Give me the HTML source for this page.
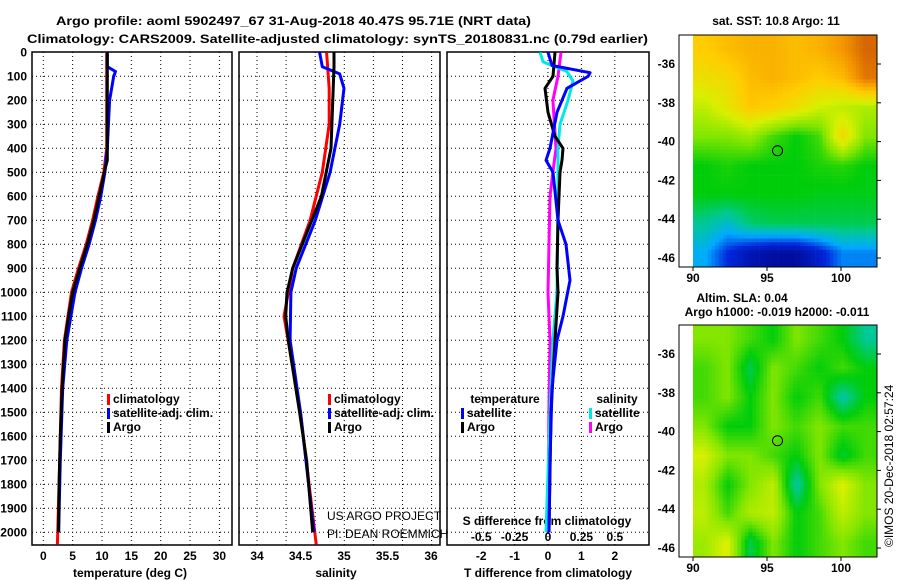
<!DOCTYPE html>
<html><head><meta charset="utf-8"><style>
html,body{margin:0;padding:0;background:#fff;width:900px;height:580px;overflow:hidden}
svg{display:block;font-family:"Liberation Sans",sans-serif}
.t{font-size:12px;font-weight:bold;fill:#000}
</style></head><body>
<svg id="chart" width="900" height="580" viewBox="0 0 900 580" xmlns="http://www.w3.org/2000/svg">
<text class="t" x="56" y="25" font-size="14" textLength="475" lengthAdjust="spacingAndGlyphs">Argo profile: aoml 5902497_67 31-Aug-2018 40.47S 95.71E (NRT data)</text>
<text class="t" x="27" y="43" font-size="14" textLength="621" lengthAdjust="spacingAndGlyphs">Climatology: CARS2009. Satellite-adjusted climatology: synTS_20180831.nc (0.79d earlier)</text>
<g id="g"></g>
</svg>
<script>
// ---- data ----
const depthTicks=[0,100,200,300,400,500,600,700,800,900,1000,1100,1200,1300,1400,1500,1600,1700,1800,1900,2000];
const tTicks=[0,5,10,15,20,25,30];
const sTickLabels=["34","34.5","35","35.5","36"];
const sTicks=[34,34.5,35,35.5,36];
const dTicks=[-2,-1,0,1,2];
const sdTickLabels=["-0.5","-0.25","0","0.25","0.5"];

const argoTdepth=[0,450,500,600,700,800,900,1000,1100,1200,1400,1600,1800,2000];
const argoT=[10.9,10.9,10.4,9.5,8.6,7.5,6.2,5.0,4.3,3.7,3.2,2.9,2.7,2.6];
const satTdepth=[0,60,80,100,200,400,500,600,700,800,900,1000,1200,1400,1700,2000];
const satT=[10.9,10.9,12.3,12.0,11.3,10.9,10.5,9.8,8.9,7.8,6.5,5.4,4.0,3.3,2.9,2.6];
const climTdepth=[0,400,500,600,700,800,900,1000,1200,1400,1700,2050];
const climT=[10.8,10.8,10.3,9.3,8.4,7.3,6.0,4.8,3.6,3.1,2.8,2.4];

const argoSdepth=[0,60,400,600,800,900,1000,1100,1200,1500,1700,2000];
const argoS=[34.885,34.885,34.85,34.74,34.52,34.41,34.345,34.33,34.36,34.49,34.57,34.64];
const satSdepth=[0,60,90,150,300,500,700,900,1000,1200,1500,2000];
const satS=[34.72,34.75,34.95,35.0,34.95,34.84,34.67,34.45,34.39,34.38,34.5,34.655];
const climSdepth=[0,150,300,500,700,900,1100,1500,2050];
const climS=[34.8,34.83,34.83,34.75,34.61,34.41,34.31,34.5,34.68];

const dTsatDepth=[0,55,85,100,150,250,400,450,500,700,800,950,1100,1200,1400,1700,2000];
const dTsat=[0,0.12,1.26,1.2,0.57,0.27,0.06,-0.06,0.15,0.3,0.54,0.66,0.45,0.27,0.12,0.06,0.03];
const dTargoDepth=[0,100,150,250,350,400,450,500,700,900,1000,1200,1500,2000];
const dTargo=[0.21,0.15,-0.09,0,0.21,0.45,0.42,0.36,0.3,0.27,0.3,0.21,0.09,0.03];
const dSsatDepth=[0,40,80,120,200,300,400,600,1000,1200,1500,2000];
const dSsat=[-0.06,-0.037,0.142,0.187,0.15,0.09,0.075,0.075,0.067,0.037,0.015,-0.015];
const dSargoDepth=[0,100,200,400,500,600,1000,1200,1500,2000];
const dSargo=[0.097,0.075,0.037,0.06,0.037,0.015,0,0.015,0.007,0];

const sstGrid=[
[.75,.78,.80,.80,.78,.80,.85,.93],
[.70,.72,.78,.80,.78,.75,.78,.90],
[.62,.68,.76,.74,.70,.64,.62,.60],
[.55,.55,.58,.50,.45,.50,.72,.55],
[.45,.47,.45,.45,.45,.47,.48,.45],
[.45,.45,.45,.45,.45,.44,.44,.44],
[.35,.30,.38,.40,.40,.40,.40,.40],
[.26,.15,.08,.05,.05,.12,.22,.22]];
const slaGrid=[
[.55,.55,.50,.45,.55,.50,.45,.35],
[.50,.55,.40,.55,.50,.45,.50,.45],
[.50,.55,.45,.55,.45,.50,.33,.45],
[.55,.45,.45,.55,.50,.55,.50,.50],
[.65,.55,.55,.50,.45,.55,.42,.50],
[.60,.45,.55,.62,.33,.55,.66,.55],
[.62,.50,.60,.62,.45,.50,.62,.55],
[.58,.66,.40,.55,.45,.50,.55,.50]];
const latTicks=[-36,-38,-40,-42,-44,-46];
const lonTicks=[90,95,100];
const floatLon=95.71, floatLat=-40.47;

// ---- axis functions ----
const yD=d=>52.3+0.24*d;
const xT=t=>43.3+5.87*t;
const xS=s=>257+87*(s-34);
const xD=d=>548+33.4*d;
const xLon=l=>693+14.8*(l-90);
const yLat=(l,off)=>64+off+19.4*(-36-l);

const NS="http://www.w3.org/2000/svg";
const G=document.getElementById('g');
function mk(tag,attrs,parent){const e=document.createElementNS(NS,tag);for(const k in attrs)e.setAttribute(k,attrs[k]);(parent||G).appendChild(e);return e;}
function txt(x,y,s,opt,parent){const e=mk('text',Object.assign({x:x,y:y,'font-size':12,'font-weight':'bold'},opt||{}),parent);e.textContent=s;return e;}

const PT=52, PB=545;
const panels=[[32,232,'temperature-panel'],[239,440,'salinity-panel'],[447,649,'difference-panel']];
panels.forEach(p=>{
  const g=mk('g',{});
  
  
  // horizontal grid
  depthTicks.forEach(d=>{if(d>0){const l=mk('line',{x1:p[0],x2:p[1],y1:yD(d),y2:yD(d),stroke:'#000','stroke-width':1,'stroke-dasharray':'1,3'},g);}});
  let vx=[];
  if(p[2]==='temperature-panel')vx=tTicks.map(xT);
  else if(p[2]==='salinity-panel'){for(let x=257;x<p[1]-2;x+=29.1)vx.push(x);}
  else vx=dTicks.map(xD);
  vx.forEach(x=>{const l=mk('line',{x1:x,x2:x,y1:PT,y2:PB,stroke:'#000','stroke-width':1,'stroke-dasharray':'1,3'},g);});
  const r=mk('rect',{x:p[0],y:PT,width:p[1]-p[0],height:PB-PT,fill:'none',stroke:'#000','stroke-width':1.5},g);
  
  
});
// depth labels
depthTicks.forEach(d=>{const e=txt(27,yD(d)+4,String(d),{'text-anchor':'end'});});
tTicks.forEach(t=>{const e=txt(xT(t),560,String(t),{'text-anchor':'middle'});});
sTicks.forEach((s,i)=>{const e=txt(xS(s),560,sTickLabels[i],{'text-anchor':'middle'});});
dTicks.forEach(d=>{const e=txt(xD(d),560,String(d),{'text-anchor':'middle'});});
dTicks.forEach((d,i)=>{const e=txt(xD(d),541,sdTickLabels[i],{'text-anchor':'middle'});});
let e;
e=txt(130,577,'temperature (deg C)',{'text-anchor':'middle'});
e=txt(336,577,'salinity',{'text-anchor':'middle'});
e=txt(548,577,'T difference from climatology',{'text-anchor':'middle'});
e=txt(547,525,'S difference from climatology',{'text-anchor':'middle'});
e=txt(327,520,'US ARGO PROJECT',{'font-weight':'normal','font-size':12});
e=txt(327,538,'PI: DEAN ROEMMICH',{'font-weight':'normal','font-size':12});

function line(depths,vals,xf,color,name){
  const pts=depths.map((d,i)=>xf(vals[i]).toFixed(1)+','+yD(d).toFixed(1)).join(' ');
  const l=mk('polyline',{points:pts,fill:'none',stroke:color,'stroke-width':3,'stroke-linejoin':'round'});
  
  
}
line(climTdepth,climT,xT,'#ff0000','temperature-climatology-line');
line(satTdepth,satT,xT,'#0000ff','temperature-satellite-line');
line(argoTdepth,argoT,xT,'#000000','temperature-argo-line');
line(climSdepth,climS,xS,'#ff0000','salinity-climatology-line');
line(satSdepth,satS,xS,'#0000ff','salinity-satellite-line');
line(argoSdepth,argoS,xS,'#000000','salinity-argo-line');
const xSD=s=>xD(s*4);
line(dSargoDepth,dSargo,xSD,'#ff00ff','s-difference-argo-line');
line(dSsatDepth,dSsat,xSD,'#00e8e8','s-difference-satellite-line');
line(dTargoDepth,dTargo,xD,'#000000','t-difference-argo-line');
line(dTsatDepth,dTsat,xD,'#0000ff','t-difference-satellite-line');

function legend(x,y,color,label){
  const m=mk('rect',{x:x,y:y-9,width:3,height:11,fill:color});
  
  
  const t=txt(x+6,y,label);
  
  
}
legend(107,403,'#ff0000','climatology');legend(107,417,'#0000ff','satellite-adj. clim.');legend(107,431,'#000','Argo');
legend(328,403,'#ff0000','climatology');legend(328,417,'#0000ff','satellite-adj. clim.');legend(328,431,'#000','Argo');
e=txt(505,403,'temperature',{'text-anchor':'middle'});
e=txt(617,403,'salinity',{'text-anchor':'middle'});
legend(461,417,'#0000ff','satellite');legend(461,431,'#000','Argo');
legend(589,417,'#00e8e8','satellite');legend(589,431,'#ff00ff','Argo');

// ---- maps ----
const stops=[[0,[0,0,130]],[0.15,[0,40,220]],[0.25,[0,170,255]],[0.35,[0,200,150]],[0.45,[0,205,10]],[0.55,[130,230,0]],[0.65,[215,240,0]],[0.75,[255,205,0]],[0.85,[245,150,0]],[1,[185,60,0]]];
function cmap(v){v=Math.max(0,Math.min(1,v));for(let i=1;i<stops.length;i++){if(v<=stops[i][0]){const a=stops[i-1],b=stops[i];const f=(v-a[0])/(b[0]-a[0]);return 'rgb('+a[1].map((c,j)=>Math.round(c+(b[1][j]-c)*f)).join(',')+')';}}return 'rgb(185,60,0)';}
function interp(grid,fx,fy){const R=grid.length,C=grid[0].length;const gx=Math.max(0,Math.min(C-1,fx*C-0.5)),gy=Math.max(0,Math.min(R-1,fy*R-0.5));const x0=Math.floor(gx),y0=Math.floor(gy),x1=Math.min(C-1,x0+1),y1=Math.min(R-1,y0+1);const tx=gx-x0,ty=gy-y0;return grid[y0][x0]*(1-tx)*(1-ty)+grid[y0][x1]*tx*(1-ty)+grid[y1][x0]*(1-tx)*ty+grid[y1][x1]*tx*ty;}
function drawMap(grid,top,name,cell){
  const g=mk('g',{});
  
  
  const L=693,R=877,T=top,B=top+232;
  for(let y=T;y<B;y+=cell)for(let x=L;x<R;x+=cell){
    const v=interp(grid,(x+cell/2-L)/(R-L),(y+cell/2-T)/(B-T));
    mk('rect',{x:x,y:y,width:Math.min(cell,R-x)+0.3,height:Math.min(cell,B-y)+0.3,fill:cmap(v)},g);
  }
  mk('rect',{x:679,y:T,width:198,height:232,fill:'none',stroke:'#000','stroke-width':1},g);
  const off=top-35;
  latTicks.forEach(l=>{const yy=yLat(l,off);mk('line',{x1:877,x2:881,y1:yy,y2:yy,stroke:'#000'},g);const t=txt(675,yy+4,String(l),{'text-anchor':'end'},g);});
  lonTicks.forEach(l=>{const xx=xLon(l);mk('line',{x1:xx,x2:xx,y1:B,y2:B+4,stroke:'#000'},g);const t=txt(xx,B+15,String(l),{'text-anchor':'middle'},g);});
  const c=mk('circle',{cx:xLon(floatLon),cy:yLat(floatLat,off),r:5,fill:'none',stroke:'#000','stroke-width':1},g);
  
  
}
drawMap(sstGrid,35,'sst-map',3.7);
drawMap(slaGrid,325,'sla-map',3.7);
e=txt(776,25,'sat. SST: 10.8 Argo: 11',{'text-anchor':'middle'});
e=txt(742,302,'Altim. SLA: 0.04',{'text-anchor':'middle'});
e=txt(777,316,'Argo h1000: -0.019 h2000: -0.011',{'text-anchor':'middle'});
e=txt(0,0,'©IMOS 20-Dec-2018 02:57:24',{'font-weight':'normal','font-size':12,transform:'translate(893,547) rotate(-90)'});
</script>
</body></html>
